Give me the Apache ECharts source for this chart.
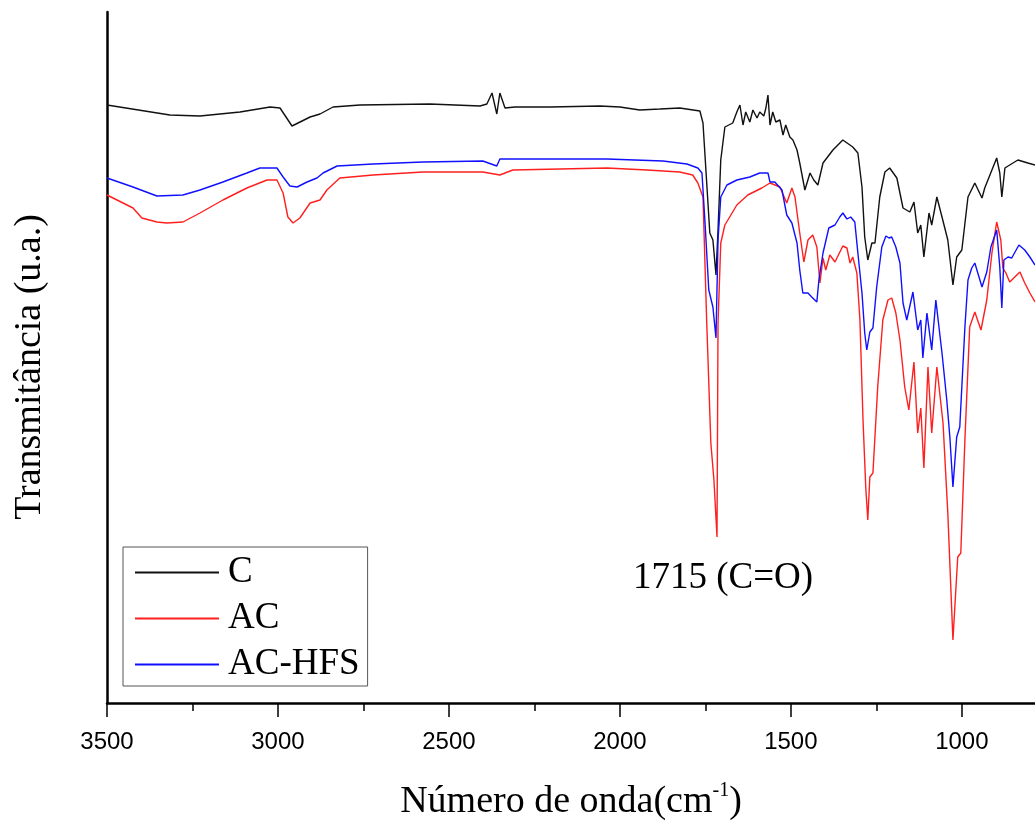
<!DOCTYPE html>
<html>
<head>
<meta charset="utf-8">
<script src="https://cdn.jsdelivr.net/npm/echarts@6/dist/echarts.min.js"></script>
<style>
html,body{margin:0;padding:0;background:#fff;}
#chart{width:1035px;height:821px;}
</style>
</head>
<body>
<div id="chart"></div>
<script>
// Wavenumbers (cm^-1) and transmittance (a.u.)
const cWn  = [3500,3316,3228,3111,3023,2994,2959,2906,2877,2839,2760,2556,2409,2389,2374,2360,2351,2336,2307,2205,2058,2000,1942,1883,1825,1766,1757,1743,1737,1728,1719,1713,1705,1693,1670,1658,1649,1640,1632,1620,1611,1599,1591,1579,1573,1567,1561,1553,1544,1532,1523,1515,1503,1494,1482,1474,1459,1444,1433,1421,1406,1377,1348,1319,1304,1292,1284,1275,1263,1254,1240,1225,1211,1190,1172,1152,1140,1129,1120,1111,1096,1088,1073,1058,1041,1026,1015,1000,982,962,941,933,912,898,889,883,874,860,836,807,786];
const cVal = [598,588,587,591,596,595,577,586,589,596,598,599,597,599,610,589,610,595,596,596,597,596,593,594,595,592,580,503,470,463,428,473,543,576,580,591,598,578,591,581,593,585,591,587,595,608,578,591,581,583,568,578,566,563,553,540,513,530,523,518,540,553,563,556,550,516,466,443,460,460,506,531,535,525,495,491,501,470,478,446,490,478,506,486,463,418,446,453,506,520,505,515,533,545,530,506,535,538,543,540,538];

const acWn  = [3500,3424,3398,3354,3325,3278,3228,3161,3091,3032,3003,2985,2971,2956,2936,2906,2877,2857,2819,2722,2576,2401,2351,2336,2313,2038,1921,1825,1787,1772,1757,1746,1734,1725,1716,1713,1705,1693,1658,1626,1585,1561,1532,1512,1497,1488,1474,1462,1450,1436,1424,1415,1406,1398,1386,1371,1348,1336,1327,1319,1307,1298,1289,1281,1275,1269,1260,1246,1231,1216,1205,1193,1181,1167,1155,1140,1129,1120,1111,1099,1088,1073,1055,1041,1026,1012,1003,991,977,962,944,927,912,898,886,880,871,860,830,816,801,786];
const acVal = [508,495,485,481,480,481,490,503,515,523,523,510,486,480,485,500,503,513,525,528,531,531,528,530,533,535,533,531,528,520,506,380,260,223,166,380,460,478,498,508,515,520,516,500,515,506,470,441,463,468,456,420,445,433,448,441,457,455,440,446,430,383,283,216,183,226,230,316,383,403,405,390,363,316,293,341,270,295,235,336,270,336,280,190,63,146,150,263,376,391,373,403,450,481,463,435,430,421,431,420,410,401];

const hfsWn  = [3500,3424,3354,3278,3228,3161,3091,3053,3003,2985,2965,2944,2915,2886,2868,2827,2722,2576,2401,2360,2351,2038,1874,1804,1772,1760,1751,1740,1728,1719,1713,1705,1687,1658,1620,1591,1567,1561,1547,1526,1512,1497,1482,1474,1465,1450,1439,1424,1418,1406,1389,1371,1357,1348,1336,1325,1313,1304,1292,1284,1278,1269,1260,1249,1234,1222,1213,1205,1193,1181,1172,1161,1143,1129,1120,1114,1102,1088,1076,1058,1044,1035,1026,1015,1006,991,982,971,962,941,927,915,898,889,883,877,865,854,833,816,801,786];
const hfsVal = [525,516,507,508,513,521,530,535,535,526,517,516,521,525,530,537,539,541,542,537,544,544,542,539,535,530,480,413,396,365,463,506,518,523,526,530,530,521,521,513,488,480,460,433,410,410,406,401,423,450,475,478,486,490,484,486,481,450,410,370,353,371,375,416,456,467,465,466,456,440,400,383,411,373,383,345,390,353,403,350,303,266,216,266,276,376,423,435,440,416,431,456,473,436,395,443,446,445,458,453,446,438];

const majorTicks = [3500,3000,2500,2000,1500,1000];
const minorTicks = [3250,2750,2250,1750,1250];
const seriesNames = ['C','AC','AC-HFS'];
const xMin = 786, xMax = 3500;

function pairs(xs, ys){ return xs.map((x,i)=>[x, ys[i]]); }

const chart = echarts.init(document.getElementById('chart'), null, {renderer:'canvas'});
const serif = 'Liberation Serif, Times New Roman, serif';
chart.setOption({
  backgroundColor:'#fff',
  animation:false,
  grid:{left:107, right:0, top:12, bottom:118, containLabel:false},
  xAxis:[{
    type:'value', inverse:true, min:xMin, max:xMax,
    axisLine:{show:true, onZero:false, lineStyle:{color:'#000', width:2.5}},
    axisTick:{show:true, inside:false, length:14, customValues:majorTicks, lineStyle:{color:'#000', width:1.5}},
    splitLine:{show:false},
    axisLabel:{show:true, margin:27, customValues:majorTicks, color:'#000', fontFamily:'Liberation Sans, Arial, sans-serif', fontSize:24,
      formatter:function(v){ return String(v); }}
  },{
    type:'value', inverse:true, min:xMin, max:xMax, position:'bottom',
    axisLine:{show:false, onZero:false},
    axisTick:{show:true, inside:false, length:8, customValues:minorTicks, lineStyle:{color:'#000', width:1.5}},
    splitLine:{show:false},
    axisLabel:{show:false}
  }],
  yAxis:{
    type:'value', min:0, max:691,
    axisLine:{show:true, lineStyle:{color:'#000', width:2.5}},
    axisTick:{show:false}, axisLabel:{show:false}, splitLine:{show:false}
  },
  legend:{
    orient:'vertical', left:123, top:547,
    data:seriesNames,
    icon:'rect', itemWidth:84, itemHeight:2, itemGap:9,
    padding:[7,8,3,12],
    borderColor:'#555', borderWidth:1,
    textStyle:{fontFamily:serif, fontSize:37, color:'#000', padding:[0,0,0,4]}
  },
  graphic:[
    {type:'text', left:633, top:560, style:{text:'1715 (C=O)', font:'37px '+serif, fill:'#000'}},
    {type:'text', x:30, y:367, rotation:Math.PI/2, style:{text:'Transmitância (u.a.)', font:'38px '+serif, fill:'#000', align:'center', verticalAlign:'middle'}},
    {type:'text', x:571, y:802, style:{
      text:'{a|Número de onda(cm}{s|-1}{a|)}', align:'center', verticalAlign:'middle',
      rich:{a:{font:'38px '+serif, fill:'#000'}, s:{font:'20px '+serif, fill:'#000', verticalAlign:'top', padding:[0,0,22,0]}}
    }}
  ],
  series:[
    {name:'C', type:'line', data:pairs(cWn,cVal), showSymbol:false, lineStyle:{color:'#111', width:1.4}, itemStyle:{color:'#111'}},
    {name:'AC', type:'line', data:pairs(acWn,acVal), showSymbol:false, lineStyle:{color:'#ff1f1f', width:1.4}, itemStyle:{color:'#ff1f1f'}},
    {name:'AC-HFS', type:'line', data:pairs(hfsWn,hfsVal), showSymbol:false, lineStyle:{color:'#1010ff', width:1.4}, itemStyle:{color:'#1010ff'}}
  ]
});
</script>
</body>
</html>
